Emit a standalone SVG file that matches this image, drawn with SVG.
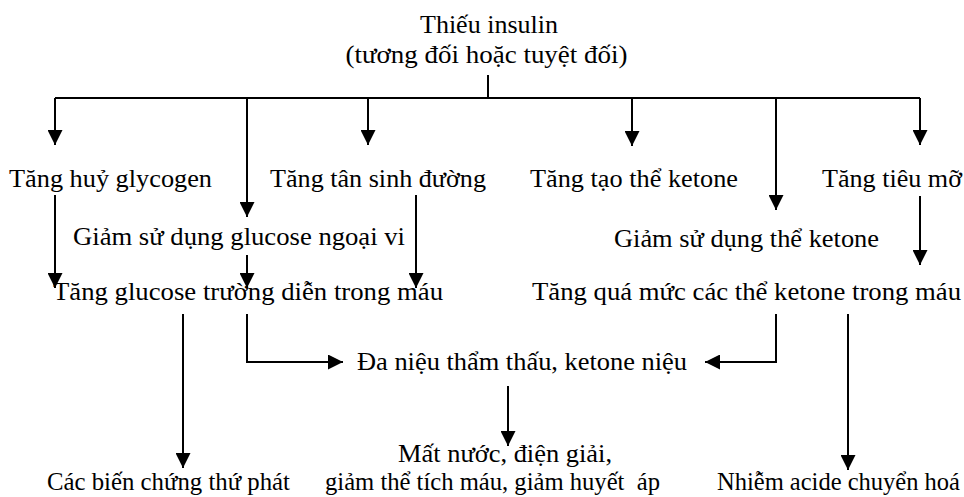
<svg xmlns="http://www.w3.org/2000/svg" width="964" height="497" viewBox="0 0 964 497">
<style>
.t{font-family:'Liberation Serif','Times New Roman','DejaVu Serif',serif;font-size:26px;fill:#000;white-space:pre}
.s{font-size:24.5px}
.c{text-anchor:middle}
.ln{fill:none;stroke:#000;stroke-width:2;stroke-linecap:butt;stroke-linejoin:miter}
.ar{marker-end:url(#ah)}
</style>
<defs>
<marker id="ah" markerUnits="userSpaceOnUse" markerWidth="16" markerHeight="15" viewBox="0 0 16 15" refX="15" refY="7.5" orient="auto">
<path d="M0,0 L15,7.5 L0,15 z" fill="#000"/>
</marker>
</defs>
<rect width="964" height="497" fill="#fff"/>
<g id="connectors">
<path class="ln" d="M488 75 V98 M55 98 H920"/>
<path class="ln ar" d="M55 98 V145"/>
<path class="ln ar" d="M247 98 V217"/>
<path class="ln ar" d="M368 98 V145"/>
<path class="ln ar" d="M632 98 V146"/>
<path class="ln ar" d="M776 98 V210"/>
<path class="ln ar" d="M920 98 V145"/>
<path class="ln ar" d="M55 195 V288"/>
<path class="ln ar" d="M247 255 V288"/>
<path class="ln ar" d="M416 195 V288"/>
<path class="ln ar" d="M920 196 V265"/>
<path class="ln ar" d="M183 314 V468"/>
<path class="ln ar" d="M247 314 V362 H343"/>
<path class="ln ar" d="M776 314 V362 H705"/>
<path class="ln ar" d="M848 314 V470"/>
<path class="ln ar" d="M508 386 V446"/>
</g>
<g id="n-thieu-insulin">
<text class="t c" x="489" y="33" textLength="138" lengthAdjust="spacingAndGlyphs">Thiếu insulin</text>
<text class="t c" x="486.5" y="63" textLength="282" lengthAdjust="spacingAndGlyphs">(tương đối hoặc tuyệt đối)</text>
</g>
<g id="n-huy-glycogen"><text class="t" x="9" y="187" textLength="203" lengthAdjust="spacingAndGlyphs">Tăng huỷ glycogen</text></g>
<g id="n-tan-sinh-duong"><text class="t" x="270" y="187" textLength="216" lengthAdjust="spacingAndGlyphs">Tăng tân sinh đường</text></g>
<g id="n-tao-ketone"><text class="t" x="530" y="187" textLength="208" lengthAdjust="spacingAndGlyphs">Tăng tạo thể ketone</text></g>
<g id="n-tieu-mo"><text class="t" x="822" y="187" textLength="140" lengthAdjust="spacingAndGlyphs">Tăng tiêu mỡ</text></g>
<g id="n-giam-glucose"><text class="t" x="73" y="245" textLength="332" lengthAdjust="spacingAndGlyphs">Giảm sử dụng glucose ngoại vi</text></g>
<g id="n-giam-ketone"><text class="t" x="614" y="247" textLength="265" lengthAdjust="spacingAndGlyphs">Giảm sử dụng thể ketone</text></g>
<g id="n-tang-glucose"><text class="t" x="53" y="300" textLength="390" lengthAdjust="spacingAndGlyphs">Tăng glucose trường diễn trong máu</text></g>
<g id="n-tang-ketone"><text class="t" x="532" y="300" textLength="429" lengthAdjust="spacingAndGlyphs">Tăng quá mức các thể ketone trong máu</text></g>
<g id="n-da-nieu"><text class="t" x="357" y="370" textLength="330" lengthAdjust="spacingAndGlyphs">Đa niệu thẩm thấu, ketone niệu</text></g>
<g id="n-mat-nuoc">
<text class="t" x="398" y="462" textLength="214" lengthAdjust="spacingAndGlyphs">Mất nước, điện giải,</text>
<text class="t s" x="325" y="490" textLength="335" lengthAdjust="spacingAndGlyphs">giảm thể tích máu, giảm huyết  áp</text>
</g>
<g id="n-bien-chung"><text class="t s" x="47" y="490" textLength="243" lengthAdjust="spacingAndGlyphs">Các biến chứng thứ phát</text></g>
<g id="n-nhiem-acide"><text class="t s" x="717" y="490" textLength="243" lengthAdjust="spacingAndGlyphs">Nhiễm acide chuyển hoá</text></g>
</svg>
